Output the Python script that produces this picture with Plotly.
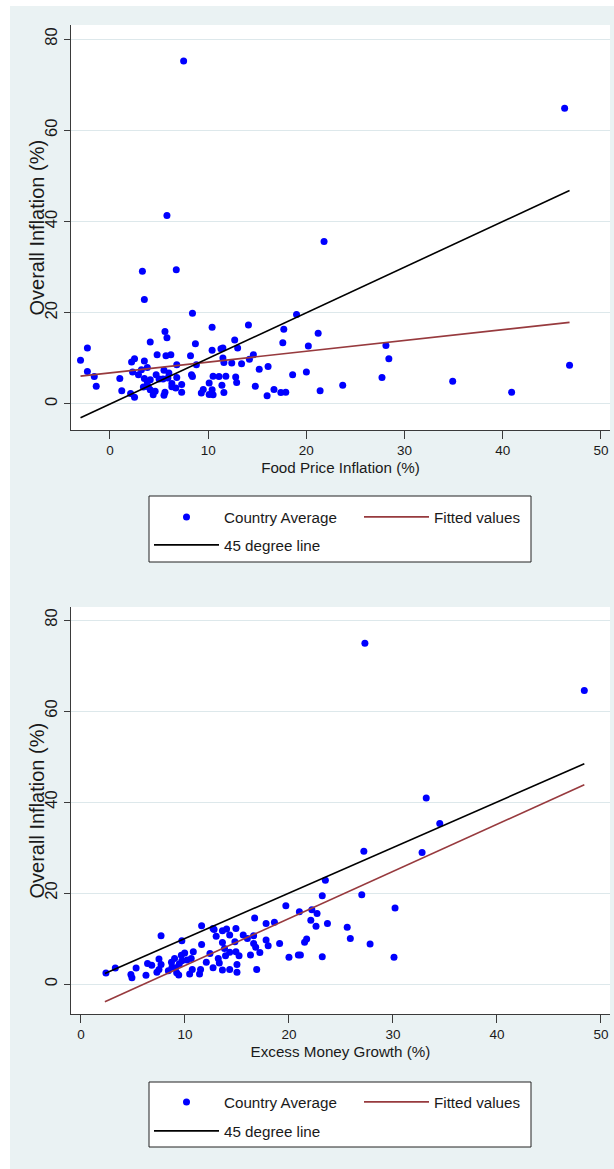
import plotly.graph_objects as go

# ---------------- data ----------------
# Panel 1: Food Price Inflation (%) vs Overall Inflation (%)
food_x = [3.5, 8.4, 10.4, 14.1, 19.0, 17.7, 21.2, 5.6, 5.8, 4.1, -2.3, -3.0, 8.7, 12.7, 13.0,
          17.6, 20.2, 10.4, 11.3, 11.5, 4.8, 5.7, 6.2, 8.2, 2.5, 2.2, 3.5, 6.8, 8.8, 11.5,
          11.6, 12.4, 13.4, 14.2, 14.6, 3.8, 3.2, 2.9, 2.3, -2.3, -1.6, -1.4, 1.0, 1.2, 3.5,
          4.1, 3.8, 4.7, 5.0, 5.5, 6.0, 5.4, 5.9, 6.8, 6.3, 6.7, 7.3, 7.3, 5.6, 5.5,
          4.6, 4.4, 4.1, 3.9, 3.4, 2.5, 2.1, 8.4, 8.3, 10.1, 10.5, 11.1, 11.8, 11.4, 12.8,
          12.9, 9.5, 9.3, 10.1, 10.4, 10.5, 11.6, 15.2, 16.1, 14.8, 16.0, 16.7, 17.4, 17.9, 18.6,
          20.0, 21.4, 23.7, 6.3, 5.8, 3.3, 6.75, 21.8, 7.5, 46.3, 28.1, 28.4, 27.7, 34.9, 40.9,
          46.8]
food_y = [22.9, 19.9, 16.8, 17.3, 19.6, 16.4, 15.5, 15.9, 14.5, 13.6, 12.3, 9.6, 13.2, 14.0, 12.3,
          13.4, 12.7, 11.8, 12.1, 12.3, 10.8, 10.6, 10.8, 10.6, 9.9, 9.2, 9.4, 8.6, 8.6, 10.1,
          9.1, 9.0, 8.8, 9.8, 10.8, 8.0, 7.5, 6.4, 7.0, 7.1, 6.0, 3.9, 5.6, 2.9, 5.6,
          5.3, 4.8, 6.4, 5.5, 7.4, 6.8, 5.5, 5.7, 5.8, 3.8, 3.5, 4.3, 2.6, 2.6, 1.9,
          2.8, 2.0, 3.1, 3.8, 3.7, 1.5, 2.3, 6.0, 6.4, 4.6, 6.1, 6.0, 6.1, 4.1, 5.9,
          4.7, 3.2, 2.4, 2.1, 3.1, 2.0, 2.5, 7.6, 8.2, 3.9, 1.8, 3.2, 2.5, 2.6, 6.4,
          7.0, 2.9, 4.1, 4.5, 41.3, 29.1, 29.4, 35.6, 75.2, 64.8, 12.8, 9.9, 5.8, 5.0, 2.6,
          8.5]

fit1_x = [-3.0, 46.8]
fit1_y = [6.1, 17.9]
deg45_1 = [-3.0, 46.8]

# Panel 2: Excess Money Growth (%) vs Overall Inflation (%)
money_x = [27.3, 48.4, 33.2, 34.5, 27.2, 32.8, 23.5, 23.2, 27.0, 30.2, 19.7, 21.0, 22.2, 22.7, 22.1,
           22.6, 23.7, 25.6, 25.9, 27.8, 30.1, 23.2, 16.7, 17.8, 18.6, 19.1, 21.7, 21.5, 20.9, 20.0,
           18.0, 17.8, 16.6, 16.8, 17.2, 16.3, 14.9, 14.3, 14.0, 13.6, 12.8, 13.0, 15.6, 16.6, 11.6,
           11.6, 13.6, 14.8, 16.0, 14.9, 14.3, 15.2, 13.8, 12.4, 2.4, 3.3, 4.8, 4.9, 5.3, 6.25,
           6.4, 6.8, 7.3, 7.5, 7.7, 7.7, 7.5, 8.4, 8.7, 8.75, 9.0, 9.2, 9.4, 9.1, 9.45,
           9.7, 9.65, 9.97, 9.7, 10.2, 10.45, 10.7, 10.6, 10.8, 11.4, 11.5, 12.05, 12.7, 12.7, 13.2,
           13.3, 13.6, 13.9, 14.3, 15.0, 15.0, 16.9, 21.1]
money_y = [74.9, 64.5, 40.9, 35.3, 29.2, 28.9, 22.8, 19.4, 19.6, 16.7, 17.2, 15.9, 16.3, 15.5, 14.0,
           12.7, 13.3, 12.5, 10.0, 8.8, 5.9, 6.0, 14.5, 13.3, 13.6, 8.9, 9.9, 9.2, 6.4, 5.9,
           8.4, 9.7, 8.9, 8.1, 6.9, 6.4, 12.2, 10.8, 12.1, 11.7, 12.0, 10.5, 10.8, 10.6, 12.8,
           8.7, 9.1, 9.3, 10.0, 7.1, 7.0, 6.2, 7.8, 6.7, 2.4, 3.5, 2.1, 1.4, 3.5, 1.9,
           4.5, 4.1, 2.6, 5.5, 4.3, 10.6, 3.2, 2.9, 4.8, 3.7, 5.6, 2.5, 2.0, 3.6, 4.4,
           9.5, 6.3, 6.8, 5.1, 5.3, 2.2, 3.2, 5.6, 7.1, 2.2, 3.2, 4.8, 3.6, 12.2, 5.6,
           4.6, 3.1, 6.2, 3.2, 4.3, 2.6, 3.2, 6.4]

fit2_x = [2.3, 48.4]
fit2_y = [-3.9, 43.8]
deg45_2 = [2.3, 48.4]

x_ticks = [0, 10, 20, 30, 40, 50]
y_ticks = [0, 20, 40, 60, 80]

# ---------------- styling ----------------
W, H = 614, 1169
ML, MR = 71, 4
PW = W - ML - MR


def px(x):
    return (x - ML) / PW


def py(y):
    return 1 - y / H


BG = '#eaf2f3'
GRID = '#dde8eb'
AX = '#3a3a3a'
BLUE = '#0000ff'
MAROON = '#973a3e'
FONT = 'Liberation Sans, Arial, sans-serif'
TXT = '#1a1a1a'

fig = go.Figure()

# panel 1
fig.add_trace(go.Scatter(x=food_x, y=food_y, mode='markers', name='Country Average',
                         marker=dict(color=BLUE, size=7, line=dict(width=0)),
                         xaxis='x', yaxis='y', legend='legend'))
fig.add_trace(go.Scatter(x=fit1_x, y=fit1_y, mode='lines', name='Fitted values',
                         line=dict(color=MAROON, width=1.6),
                         xaxis='x', yaxis='y', legend='legend'))
fig.add_trace(go.Scatter(x=deg45_1, y=deg45_1, mode='lines', name='45 degree line',
                         line=dict(color='#000000', width=1.6),
                         xaxis='x', yaxis='y', legend='legend2'))
# panel 2
fig.add_trace(go.Scatter(x=money_x, y=money_y, mode='markers', name='Country Average',
                         marker=dict(color=BLUE, size=7, line=dict(width=0)),
                         xaxis='x2', yaxis='y2', legend='legend3'))
fig.add_trace(go.Scatter(x=fit2_x, y=fit2_y, mode='lines', name='Fitted values',
                         line=dict(color=MAROON, width=1.6),
                         xaxis='x2', yaxis='y2', legend='legend3'))
fig.add_trace(go.Scatter(x=deg45_2, y=deg45_2, mode='lines', name='45 degree line',
                         line=dict(color='#000000', width=1.6),
                         xaxis='x2', yaxis='y2', legend='legend4'))


def xaxis_cfg(rng, title, anchor):
    return dict(domain=[0, 1], anchor=anchor, range=rng, tickmode='array', tickvals=x_ticks,
                ticks='outside', ticklen=8, tickwidth=1.2, tickcolor=AX,
                showline=True, linecolor=AX, linewidth=1.2, showgrid=False, zeroline=False,
                tickfont=dict(family=FONT, size=13.5, color=TXT),
                title=dict(text=title, font=dict(family=FONT, size=15.2, color=TXT), standoff=5),
                automargin=False, fixedrange=True)


def yaxis_cfg(rng, dom, anchor):
    return dict(domain=dom, anchor=anchor, range=rng, tickmode='array', tickvals=y_ticks,
                ticks='outside', ticklen=6, tickwidth=1.2, tickcolor=AX, tickangle=-90,
                showline=True, linecolor=AX, linewidth=1.2,
                showgrid=True, gridcolor=GRID, gridwidth=1.2, zeroline=False,
                tickfont=dict(family=FONT, size=16.5, color=TXT),
                automargin=False, fixedrange=True)


def legend_cfg(xpix, ypix):
    return dict(x=px(xpix), xanchor='left', y=py(ypix), yanchor='middle', orientation='h',
                itemwidth=65, entrywidth=130, entrywidthmode='pixels',
                bgcolor='rgba(0,0,0,0)', borderwidth=0,
                font=dict(family=FONT, size=15.2, color=TXT))


shapes = [
    # white strips outside the graph region
    dict(type='rect', xref='paper', yref='paper', x0=px(0), x1=px(10), y0=0, y1=1,
         fillcolor='white', line=dict(width=0), layer='below'),
    dict(type='rect', xref='paper', yref='paper', x0=px(0), x1=px(W), y0=py(6), y1=1,
         fillcolor='white', line=dict(width=0), layer='below'),
    # legend frames
    dict(type='rect', xref='paper', yref='paper', x0=px(149), x1=px(531), y0=py(562), y1=py(496),
         fillcolor='white', line=dict(color='#222222', width=1), layer='below'),
    dict(type='rect', xref='paper', yref='paper', x0=px(149), x1=px(531), y0=py(1147), y1=py(1082),
         fillcolor='white', line=dict(color='#222222', width=1), layer='below'),
]

annotations = [
    dict(text='Overall Inflation (%)', xref='paper', yref='paper', x=px(36), y=py((25 + 430) / 2),
         xanchor='center', yanchor='middle', textangle=-90, showarrow=False,
         font=dict(family=FONT, size=20, color=TXT)),
    dict(text='Overall Inflation (%)', xref='paper', yref='paper', x=px(36), y=py((607 + 1014) / 2),
         xanchor='center', yanchor='middle', textangle=-90, showarrow=False,
         font=dict(family=FONT, size=20, color=TXT)),
]

fig.update_layout(
    width=W, height=H,
    margin=dict(l=ML, r=MR, t=0, b=0, pad=0),
    paper_bgcolor=BG, plot_bgcolor='white',
    xaxis=xaxis_cfg([-3.97, 50.92], 'Food Price Inflation (%)', 'y'),
    yaxis=yaxis_cfg([-5.70, 83.07], [py(430), py(25)], 'x'),
    xaxis2=xaxis_cfg([-0.96, 50.87], 'Excess Money Growth (%)', 'y2'),
    yaxis2=yaxis_cfg([-6.59, 82.86], [py(1014), py(607)], 'x2'),
    legend=legend_cfg(149, 517),
    legend2=legend_cfg(149, 545),
    legend3=legend_cfg(149, 1102),
    legend4=legend_cfg(149, 1131),
    shapes=shapes,
    annotations=annotations,
    showlegend=True,
)

fig.write_html(
    "out.html",
    config={'displayModeBar': False},
    post_script="document.body.style.margin='0';document.body.style.overflow='hidden';",
)
